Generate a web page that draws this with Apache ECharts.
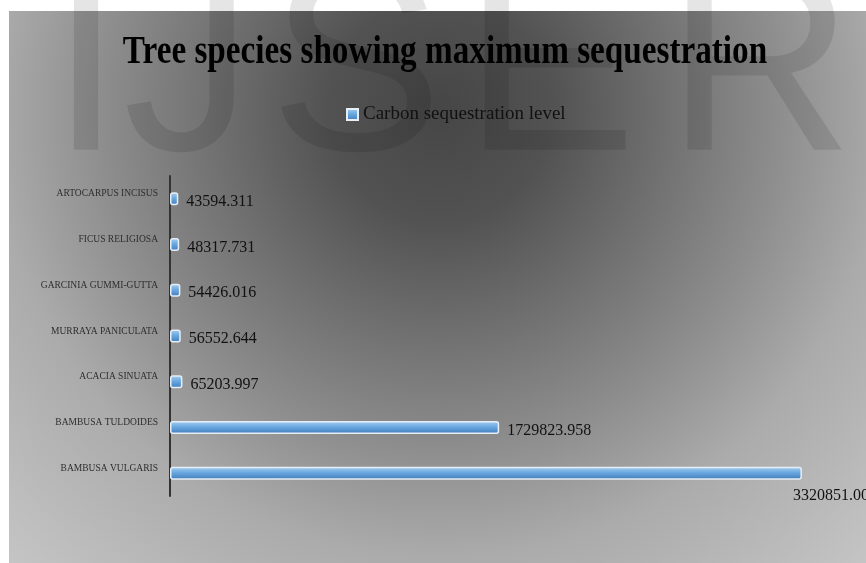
<!DOCTYPE html>
<html>
<head>
<meta charset="utf-8">
<title>Tree species showing maximum sequestration</title>
<script src="https://cdn.jsdelivr.net/npm/echarts@6/dist/echarts.min.js"></script>
<style>
  html, body { margin: 0; padding: 0; background: #fff; }
  #chart { width: 866px; height: 563px; }
</style>
</head>
<body>
<div id="chart"></div>
<script>
// species, listed top to bottom as in the chart
const species = [
  'ARTOCARPUS INCISUS',
  'FICUS RELIGIOSA',
  'GARCINIA GUMMI-GUTTA',
  'MURRAYA PANICULATA',
  'ACACIA SINUATA',
  'BAMBUSA TULDOIDES',
  'BAMBUSA VULGARIS'
]
// carbon sequestration level for each species
const sequestration = [43594.311, 48317.731, 54426.016, 56552.644, 65203.997, 1729823.958, 3320851.0]
const seriesName = 'Carbon sequestration level'
const titleText = 'Tree species showing maximum sequestration'
// watermark letters and the x centre of each
const markLetters = ['I', 'J', 'S', 'E', 'R']
const markCenters = [86, 188, 356, 550, 760]

const chart = echarts.init(document.getElementById('chart'))

// the longest bar gets its label under its end, like in the picture
const maxValue = Math.max(...sequestration)
const barData = sequestration.map(v =>
  v === maxValue
    ? { value: v, label: { position: ['100%', '100%'], align: 'left', verticalAlign: 'top', offset: [-9, 8] } }
    : v
)

// grey panel behind the plot
const panel = {
  type: 'rect',
  z: -10,
  shape: { x: 9, y: 11, width: 857, height: 552 },
  style: {
    fill: new echarts.graphic.RadialGradient(440, 110, 620, [
      { offset: 0, color: '#464646' },
      { offset: 0.18, color: '#525252' },
      { offset: 0.35, color: '#6e6e6e' },
      { offset: 0.55, color: '#8e8e8e' },
      { offset: 0.72, color: '#ababab' },
      { offset: 1, color: '#c4c4c4' }
    ], true)
  }
}

const watermark = markLetters.map((ch, i) => ({
  type: 'text',
  z: -5,
  x: markCenters[i],
  y: 78,
  style: {
    text: ch,
    font: '260px "Liberation Sans"',
    fill: 'rgba(0,0,0,0.1)',
    align: 'center',
    verticalAlign: 'middle',
    textAlign: 'center',
    textVerticalAlign: 'middle'
  }
}))

// title is drawn a bit narrow, as in the original
const title = {
  type: 'text',
  z: 10,
  x: 445,
  y: 53,
  scaleX: 0.83,
  style: {
    text: titleText,
    font: 'bold 40px "Liberation Serif"',
    fill: '#000',
    align: 'center',
    verticalAlign: 'middle',
    textAlign: 'center',
    textVerticalAlign: 'middle'
  }
}

chart.setOption({
  backgroundColor: '#fff',
  animation: false,
  graphic: [panel, ...watermark, title],
  legend: {
    data: [seriesName],
    left: 341,
    top: 100,
    icon: 'rect',
    itemWidth: 11,
    itemHeight: 11,
    textStyle: {
      fontFamily: 'Liberation Serif',
      fontSize: 19,
      color: '#111'
    }
  },
  grid: {
    left: 170,
    top: 176,
    height: 320,
    right: 30
  },
  xAxis: {
    type: 'value',
    min: 0,
    max: 3500000,
    show: false
  },
  yAxis: {
    type: 'category',
    data: species,
    inverse: true,
    offset: 4,
    axisLine: { lineStyle: { color: '#333', width: 2 } },
    axisTick: { show: false },
    splitLine: { show: false },
    axisLabel: {
      fontFamily: 'Liberation Serif',
      fontSize: 9.5,
      color: '#2e2e2e',
      margin: 8,
      verticalAlign: 'bottom'
    }
  },
  series: [
    {
      name: seriesName,
      type: 'bar',
      data: barData,
      barWidth: 13,
      itemStyle: {
        color: new echarts.graphic.LinearGradient(0, 0, 0, 1, [
          { offset: 0, color: '#a9d1f2' },
          { offset: 0.45, color: '#6aa9e0' },
          { offset: 1, color: '#3f7cbc' }
        ]),
        borderColor: '#e8eef5',
        borderWidth: 1.5,
        borderRadius: 2
      },
      label: {
        show: true,
        position: 'right',
        distance: 8,
        offset: [0, 3],
        fontFamily: 'Liberation Serif',
        fontSize: 16,
        color: '#111',
        formatter: p => p.value.toFixed(3)
      }
    }
  ]
})
</script>
</body>
</html>
